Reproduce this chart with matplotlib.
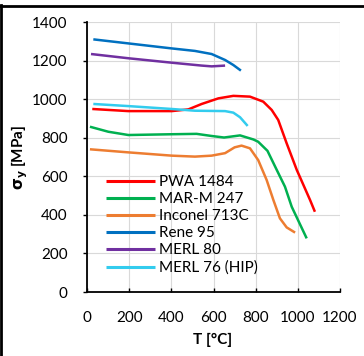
import matplotlib
matplotlib.use("Agg")
import matplotlib.pyplot as plt
from matplotlib.lines import Line2D

plt.rcParams['font.family'] = ['Lato', 'DejaVu Sans']

# ---- data ----
pwa_T = [25, 196, 402, 481, 544, 623, 694, 773, 836, 876, 907, 947, 995, 1058, 1081]
pwa_s = [949, 938, 938, 947, 975, 1004, 1017, 1013, 987, 944, 892, 771, 633, 477, 416]

marm_T = [14, 101, 196, 402, 520, 591, 650, 726, 789, 812, 856, 900, 939, 971, 1042]
marm_s = [857, 831, 814, 818, 820, 809, 801, 812, 791, 779, 732, 633, 546, 442, 278]

inc_T = [14, 196, 402, 512, 591, 655, 700, 733, 773, 812, 852, 884, 915, 947, 987]
inc_s = [740, 724, 707, 702, 707, 720, 750, 759, 745, 684, 581, 477, 382, 335, 308]

rene_T = [30, 196, 402, 512, 591, 655, 694, 730]
rene_s = [1310, 1289, 1263, 1250, 1234, 1203, 1177, 1148]

merl80_T = [19, 196, 402, 544, 591, 655]
merl80_s = [1234, 1212, 1189, 1174, 1170, 1174]

merl76_T = [30, 196, 402, 512, 655, 694, 726, 762]
merl76_s = [975, 964, 949, 940, 938, 930, 906, 861]

labels = ["PWA 1484", "MAR-M 247", "Inconel 713C", "Rene 95", "MERL 80", "MERL 76 (HIP)"]
colors = ["#FF0000", "#00B050", "#ED7D31", "#0070C0", "#7030A0", "#33CCEE"]
series = [(pwa_T, pwa_s), (marm_T, marm_s), (inc_T, inc_s),
          (rene_T, rene_s), (merl80_T, merl80_s), (merl76_T, merl76_s)]

xticks = [0, 200, 400, 600, 800, 1000, 1200]
yticks = [0, 200, 400, 600, 800, 1000, 1200, 1400]

fs = 11
fig = plt.figure(figsize=(3.64, 3.56), dpi=100)
ax = fig.add_axes([87/364, 1-292/356, (340-87)/364, (292-22)/356])

for (t, s), lab, c in zip(series, labels, colors):
    ax.plot(t, s, color=c, lw=1.8, label=lab, solid_capstyle='butt', solid_joinstyle='round')

ax.set_xlim(0, 1200)
ax.set_ylim(0, 1400)
ax.set_xticks(xticks)
ax.set_yticks(yticks)
ax.grid(True, color='#D9D9D9', lw=0.8)
ax.set_axisbelow(True)
for sp in ['top', 'right']:
    ax.spines[sp].set_visible(False)
for sp in ['left', 'bottom']:
    ax.spines[sp].set_linewidth(1.3)
ax.tick_params(axis='y', direction='out', length=3, width=1, pad=11, labelsize=fs)
ax.tick_params(axis='x', direction='in', length=3, width=1, pad=14, labelsize=fs)

ax.set_xlabel("T [°C]", fontweight='bold', fontsize=fs)
ax.set_ylabel(r"$\mathbf{\sigma_y}$ [MPa]", fontweight='bold', fontsize=fs)
ax.xaxis.set_label_coords((213 - 87) / 253, -(340 - 292) / 270)
ax.yaxis.set_label_coords(-(87 - 20) / 253, (292 - 157) / 270)
ax.xaxis.label.set_va('center')
ax.yaxis.label.set_va('center')

leg = ax.legend(loc='upper left', bbox_to_anchor=(0.05, 0.455), frameon=False,
                fontsize=fs, handlelength=3.2, handletextpad=0.3,
                labelspacing=0.2, borderaxespad=0)
for h in leg.legend_handles:
    h.set_linewidth(2.2)

# figure frame lines (top and left)
fig.add_artist(Line2D([0, 1], [1-5.5/356, 1-5.5/356], transform=fig.transFigure, color='black', lw=2))
fig.add_artist(Line2D([1/364, 1/364], [0, 1-5/356], transform=fig.transFigure, color='black', lw=2))

fig.savefig("out.png", dpi=100)
